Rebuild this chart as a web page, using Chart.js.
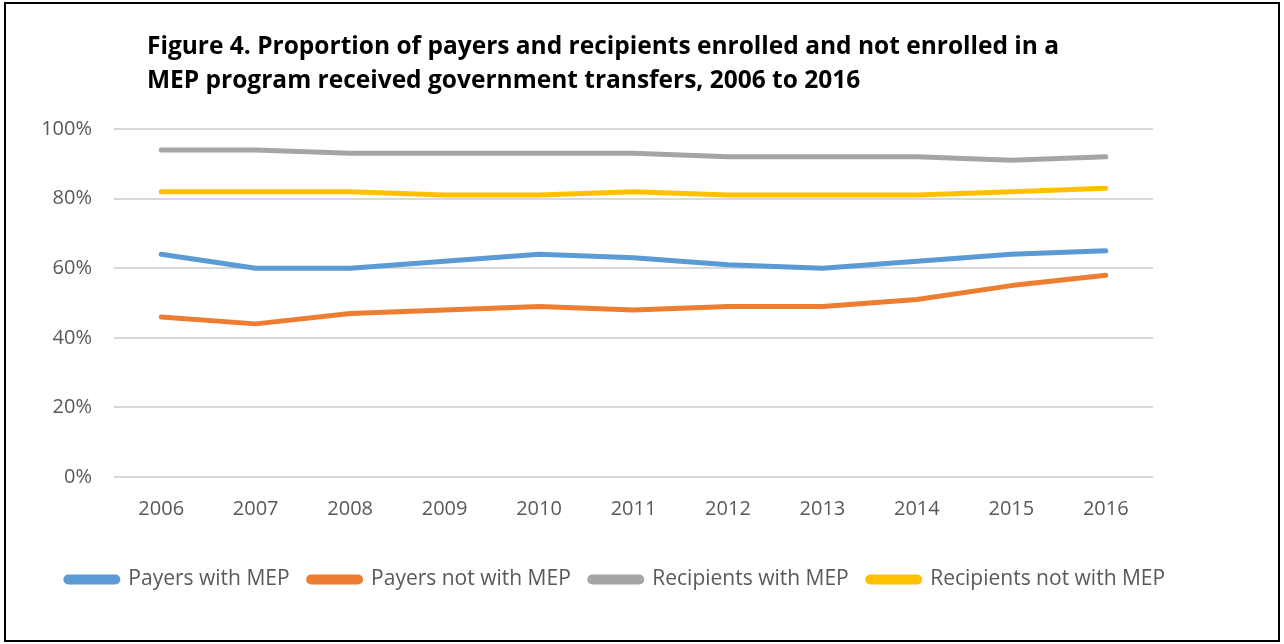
<!DOCTYPE html>
<html>
<head>
<meta charset="utf-8">
<script src="https://cdn.jsdelivr.net/npm/chart.js@4"></script>
<style>
  html, body { margin: 0; padding: 0; background: #fff; }
  #wrap { position: relative; width: 1284px; height: 644px; }
  canvas { display: block; }
</style>
</head>
<body>
<div id="wrap"><canvas id="c" width="1284" height="644"></canvas></div>
<script>
// Years on the horizontal axis
const years = ['2006','2007','2008','2009','2010','2011','2012','2013','2014','2015','2016'];

// Share of each group receiving government transfers (%)
const payersWithMEP       = [64, 60, 60, 62, 64, 63, 61, 60, 62, 64, 65];
const payersNotWithMEP    = [46, 44, 47, 48, 49, 48, 49, 49, 51, 55, 58];
const recipientsWithMEP   = [94, 94, 93, 93, 93, 93, 92, 92, 92, 91, 92];
const recipientsNotWithMEP= [82, 82, 82, 81, 81, 82, 81, 81, 81, 82, 83];

// Gridline values on the vertical axis (%)
const yTicks = [0, 20, 40, 60, 80, 100];

const seriesNames = ['Payers with MEP', 'Payers not with MEP', 'Recipients with MEP', 'Recipients not with MEP'];
const seriesColors = ['#5B9BD5', '#ED7D31', '#A5A5A5', '#FFC000'];

const titleLines = [
  'Figure 4. Proportion of payers and recipients enrolled and not enrolled in a',
  'MEP program received government transfers, 2006 to 2016'
];

const FONT = '"Open Sans", Lato, sans-serif';
const TEXT = '#595959';

// White page, black frame and the two-line heading
const framePlugin = {
  id: 'frame',
  afterLayout(chart) {
    // centre the legend row under the whole figure rather than the left part
    const lg = chart.legend;
    if (lg) { lg.left += 39; lg.right += 39; }
  },
  beforeDraw(chart) {
    const ctx = chart.ctx;
    ctx.save();
    ctx.fillStyle = '#ffffff';
    ctx.fillRect(0, 0, chart.width, chart.height);
    ctx.restore();
  },
  afterDraw(chart) {
    const ctx = chart.ctx;
    ctx.save();
    ctx.strokeStyle = '#000000';
    ctx.lineWidth = 2;
    ctx.strokeRect(5, 3, 1274, 638);
    ctx.fillStyle = '#000000';
    ctx.font = 'bold 24.5px ' + FONT;
    ctx.textAlign = 'left';
    ctx.textBaseline = 'alphabetic';
    ctx.fillText(titleLines[0], 147, 54);
    ctx.fillText(titleLines[1], 147, 88);
    ctx.restore();
  }
};

const datasets = [payersWithMEP, payersNotWithMEP, recipientsWithMEP, recipientsNotWithMEP].map((vals, i) => ({
  label: seriesNames[i],
  data: vals,
  borderColor: seriesColors[i],
  backgroundColor: seriesColors[i],
  borderWidth: 5,
  borderCapStyle: 'round',
  borderJoinStyle: 'round',
  pointRadius: 0,
  pointHoverRadius: 0,
  tension: 0,
  fill: false
}));

new Chart(document.getElementById('c'), {
  type: 'line',
  data: { labels: years, datasets: datasets },
  plugins: [framePlugin],
  options: {
    responsive: false,
    animation: false,
    layout: { padding: { top: 129, right: 131, bottom: 44, left: 0 } },
    plugins: {
      title: { display: false },
      tooltip: { enabled: false },
      legend: {
        position: 'bottom',
        labels: {
          boxWidth: 52,
          boxHeight: 5,
          useBorderRadius: true,
          borderRadius: 2.5,
          padding: 19,
          color: TEXT,
          font: { family: FONT, size: 21 }
        }
      }
    },
    scales: {
      x: {
        offset: true,
        grid: { display: false, drawTicks: false },
        border: { display: false },
        ticks: { color: TEXT, padding: 20, font: { family: FONT, size: 20 } },
        afterFit(scale) { scale.height = 73; }
      },
      y: {
        min: 0,
        max: 100,
        ticks: {
          color: TEXT,
          padding: 22,
          font: { family: FONT, size: 20 },
          callback: v => v + '%'
        },
        grid: { color: '#D9D9D9', lineWidth: 2, drawTicks: false },
        border: { display: false },
        afterFit(scale) { scale.width = 114; },
        afterBuildTicks(scale) {
          scale.ticks = yTicks.map(v => ({ value: v }));
        }
      }
    }
  }
});
</script>
</body>
</html>
